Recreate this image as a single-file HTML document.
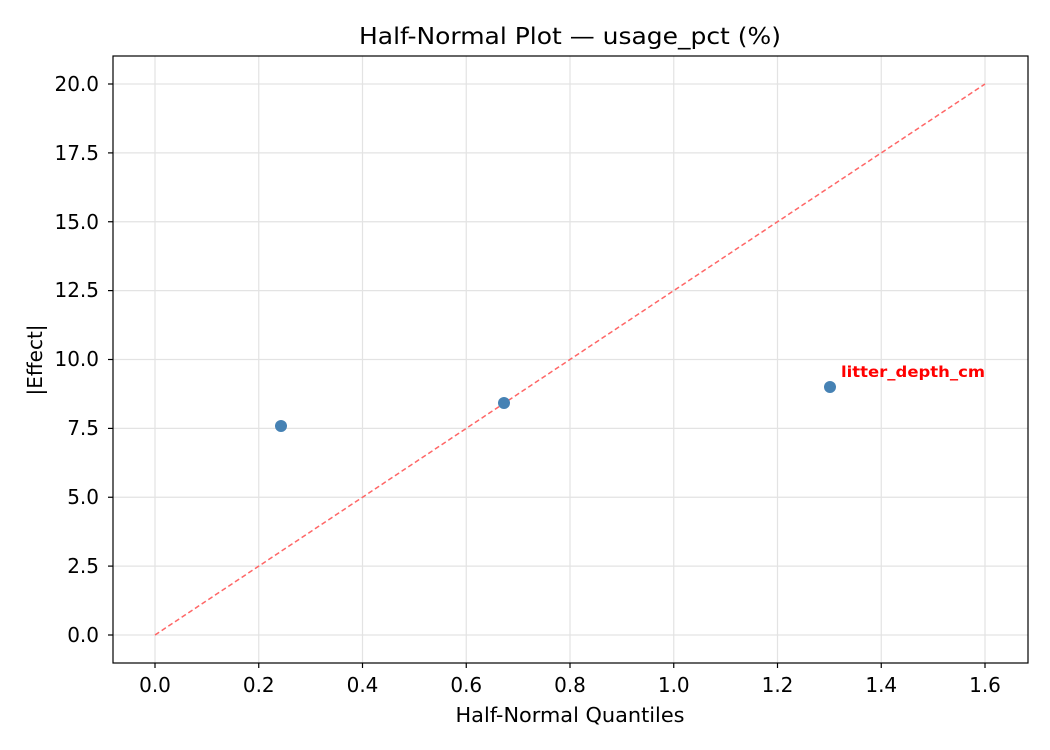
<!DOCTYPE html>
<html><head><meta charset="utf-8"><style>body{margin:0;background:#fff}svg{display:block}text{font-family:"DejaVu Sans","Liberation Sans",sans-serif}</style></head><body>
<svg width="1050" height="750" xmlns="http://www.w3.org/2000/svg">
<rect width="1050" height="750" fill="#fff"/>
<g stroke="#e3e3e3" stroke-width="1.2">
<line x1="155" y1="56" x2="155" y2="663"/><line x1="258.75" y1="56" x2="258.75" y2="663"/><line x1="362.5" y1="56" x2="362.5" y2="663"/><line x1="466.25" y1="56" x2="466.25" y2="663"/><line x1="570" y1="56" x2="570" y2="663"/><line x1="673.75" y1="56" x2="673.75" y2="663"/><line x1="777.5" y1="56" x2="777.5" y2="663"/><line x1="881.25" y1="56" x2="881.25" y2="663"/><line x1="985" y1="56" x2="985" y2="663"/>
<line x1="113" y1="635" x2="1028" y2="635"/><line x1="113" y1="566.1" x2="1028" y2="566.1"/><line x1="113" y1="497.25" x2="1028" y2="497.25"/><line x1="113" y1="428.4" x2="1028" y2="428.4"/><line x1="113" y1="359.5" x2="1028" y2="359.5"/><line x1="113" y1="290.6" x2="1028" y2="290.6"/><line x1="113" y1="221.75" x2="1028" y2="221.75"/><line x1="113" y1="152.9" x2="1028" y2="152.9"/><line x1="113" y1="84" x2="1028" y2="84"/>
</g>
<line x1="155" y1="635" x2="985" y2="84" stroke="#ff6666" stroke-width="1.5" stroke-dasharray="5,3"/>
<g fill="#4682b4"><circle cx="281" cy="426" r="6"/><circle cx="504" cy="403" r="6"/><circle cx="830" cy="387" r="6"/></g>
<text x="841" y="377" fill="#ff0000" font-size="15" font-weight="bold" textLength="144" lengthAdjust="spacingAndGlyphs">litter_depth_cm</text>
<rect x="113" y="56" width="915" height="607" fill="none" stroke="#000" stroke-width="1.2"/>
<g stroke="#000" stroke-width="1.2">
<line x1="155" y1="663" x2="155" y2="668"/><line x1="258.75" y1="663" x2="258.75" y2="668"/><line x1="362.5" y1="663" x2="362.5" y2="668"/><line x1="466.25" y1="663" x2="466.25" y2="668"/><line x1="570" y1="663" x2="570" y2="668"/><line x1="673.75" y1="663" x2="673.75" y2="668"/><line x1="777.5" y1="663" x2="777.5" y2="668"/><line x1="881.25" y1="663" x2="881.25" y2="668"/><line x1="985" y1="663" x2="985" y2="668"/>
<line x1="108" y1="635" x2="113" y2="635"/><line x1="108" y1="566.1" x2="113" y2="566.1"/><line x1="108" y1="497.25" x2="113" y2="497.25"/><line x1="108" y1="428.4" x2="113" y2="428.4"/><line x1="108" y1="359.5" x2="113" y2="359.5"/><line x1="108" y1="290.6" x2="113" y2="290.6"/><line x1="108" y1="221.75" x2="113" y2="221.75"/><line x1="108" y1="152.9" x2="113" y2="152.9"/><line x1="108" y1="84" x2="113" y2="84"/>
</g>
<g font-size="20" text-anchor="middle" fill="#000">
<text x="155" y="692">0.0</text><text x="258.75" y="692">0.2</text><text x="362.5" y="692">0.4</text><text x="466.25" y="692">0.6</text><text x="570" y="692">0.8</text><text x="673.75" y="692">1.0</text><text x="777.5" y="692">1.2</text><text x="881.25" y="692">1.4</text><text x="985" y="692">1.6</text>
</g>
<g font-size="20" text-anchor="end" fill="#000">
<text x="99" y="642">0.0</text><text x="99" y="573">2.5</text><text x="99" y="504">5.0</text><text x="99" y="435">7.5</text><text x="99" y="366">10.0</text><text x="99" y="297">12.5</text><text x="99" y="229">15.0</text><text x="99" y="160">17.5</text><text x="99" y="91">20.0</text>
</g>
<text x="570" y="722" font-size="20" text-anchor="middle" textLength="229" lengthAdjust="spacingAndGlyphs">Half-Normal Quantiles</text>
<text transform="translate(42,360) rotate(-90)" font-size="20" text-anchor="middle">|Effect|</text>
<text x="570" y="44" font-size="23" text-anchor="middle" textLength="422" lengthAdjust="spacingAndGlyphs">Half-Normal Plot — usage_pct (%)</text>
</svg>
</body></html>
